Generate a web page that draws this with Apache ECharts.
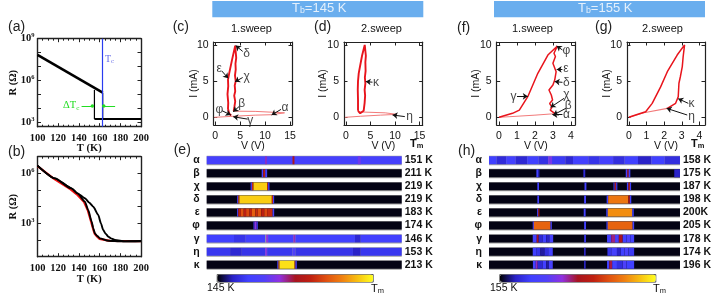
<!DOCTYPE html>
<html>
<head>
<meta charset="utf-8">
<title>Resistive switching sweeps</title>
<script src="https://cdn.jsdelivr.net/npm/echarts@6/dist/echarts.min.js"></script>
<style>
html,body{margin:0;padding:0;background:#fff;}
#chart{width:714px;height:295px;}
</style>
</head>
<body>
<div id="chart"></div>
<script>
//(a) R(T) 
var aHeatCurve = [[100,6.8e7],[163,1.35e5]];
var aDropCurve = [[163,1.35e5],[163,1740]];
var aFlatCurve = [[155,1740],[200,1740]];
var aCoolCurve = [[155,1740],[155,2.1e5]];
//(b) R(T)
var bUpper = [[100,2.9e6],[116.8,5e5],[132.9,1.26e5],[138.7,6.3e4],[145.8,3.2e4],[150,1.75e4],[153.9,1e4],[158.7,3.2e3],[161.3,1000],[163.5,400],[165.8,240],[168.4,160],[171,126],[174.8,100],[184.5,83],[200,87]];
var bLower = [[100,2.9e6],[116.8,5e5],[132.9,1.26e5],[138.7,6.3e4],[145.8,2e4],[149,6.3e3],[152.3,1260],[153.9,500],[155.5,250],[157.7,174],[160.3,126],[168.4,91],[181.3,83],[200,85]];
var bRed = [[100,2.7e6],[116,4.7e5],[132,1.1e5],[138,5.5e4],[145,1.9e4],[148.7,5.8e3],[152,1150],[153.7,470],[155.3,235],[157.5,165],[160,118],[170,89],[200,85]];
//(c)
var cLow = [[-0.2,0],[3,0.12],[8,0.3],[11.3,0.36],[13.9,0.62],[13.7,0.78],[8,0.82],[3.7,0.85]];
var cLoop = [[3.7,0.85],[3.85,1.5],[4.0,2.2],[3.8,3],[4.0,3.6],[3.9,4.4],[4.1,5],[3.95,5.8],[4.1,6.6],[4.05,7.4],[4.2,8.2],[4.1,9],[4.0,9.9],[3.35,7.9],[2.8,6.1],[2.55,5.2],[2.6,4.3],[2.45,3.2],[2.6,2],[2.55,1.2],[2.8,0.5],[3.2,0.25]];
//(d)
var dLow = [[-0.2,0],[3,0.15],[7,0.3],[10.4,0.41],[8,0.62],[2.6,0.75]];
var dLoop = [[2.45,0.9],[2.9,0.55],[3.6,0.9],[3.8,2],[3.9,3],[3.8,3.8],[3.95,4.7],[3.85,5.5],[4.0,6.4],[3.95,7.6],[4.05,8.5],[3.82,10],[3.27,8.5],[2.6,6.1],[2.45,5],[2.4,3.8],[2.45,2.4],[2.45,0.9]];
//(f)
var fLow = [[0,0],[1,0.15],[2,0.3],[3.1,0.5]];
var fLoop = [[3.1,0.55],[2.85,1],[2.95,1.4],[2.82,1.9],[2.98,2.4],[2.91,3.08],[2.78,3.77],[3.0,4.46],[3.1,5.15],[3.18,6.3],[3.0,7.46],[3.14,8.4],[3.06,8.84],[3.25,9.85],[2.72,8.6],[2.16,6.08],[1.6,2.85],[1.13,1],[0.75,0.55],[0,0]];
//(g)
var gLow = [[0,0],[0.85,0.64],[2.18,1.24]];
var gLoop = [[2.18,1.24],[2.65,1.93],[2.8,2.85],[2.84,4.7],[2.92,5.6],[3.03,7],[3.08,8.4],[3.16,10],[2.74,8.6],[2.18,6.3],[1.8,4.2],[1.32,1.93],[0.95,0.77],[0.38,0.32],[0,0]];

//notes: text, text x, text y, arrow from x, y, arrow to x, y
var cNotes = [['δ',6.3,8.84,5.5,9.1,4.1,9.9],['ε',0.8,6.77,1.3,6.4,2.6,5.4],['χ',6.3,5.6,5.5,5.5,3.96,4.9],['β',5.3,1.93,4.8,1.5,3.6,0.77],['φ',0.8,1,1.4,0.9,3.1,0.32],['γ',7,-0.47,6.5,-0.25,3.6,0.08],['α',14,1.33,13.2,1.1,11.3,0.32]];
var dNotes = [['κ',6.13,4.83,5.4,4.85,4.03,4.93],['η',12.95,0.08,12,0.1,9.5,0.32]];
var fNotes = [['φ',3.75,9.2,3.53,9.3,3.21,9.85],['ε',3.72,6.77,3.53,6.62,3.21,6.62],['δ',3.75,4.83,3.53,4.83,3.1,4.93],['χ',3.75,3.08,3.62,2.62,2.87,1.38],['β',3.85,1.56,3.72,1.24,3.02,0.32],['α',3.75,0.32,3.53,0.37,2.97,0.37],['γ',0.81,2.85,1,2.9,1.6,2.9]];
var gNotes = [['κ',3.56,1.84,3.37,1.93,2.8,2.57],['η',3.56,0.08,3.31,0.32,2.14,1.24]];

//heat strips, each row [from %, to %, level on the colour bar]
var stripNames = ['α','β','χ','δ','ε','φ','γ','η','κ'];
var eTm = ['151 K','211 K','219 K','219 K','183 K','174 K','146 K','153 K','213 K'];
var hTm = ['158 K','175 K','187 K','198 K','200K','205 K','178 K','174 K','196 K'];
var eRows = [
    [[0,100,.24],[30,30.8,.42],[44,45,.52],[77.5,79,.35]],
    [[0,100,.01],[28.2,29,.2],[29,30,.55],[30,31,.22]],
    [[0,100,.01],[22.5,23.2,.2],[23.2,24,.62],[24,31,.92],[31,31.5,.62],[31.5,32.2,.2]],
    [[0,100,.01],[15.6,16.2,.25],[16.2,16.8,.7],[16.8,33.4,.92],[33.4,34,.6],[34,34.6,.22]],
    [[0,100,.01],[15.6,16.2,.25],[16.2,17.5,.6],[17.5,19,.7],[19,20.2,.58],[20.2,22,.68],[22,23.2,.6],[23.2,25,.73],[25,26.2,.62],[26.2,28,.7],[28,29.5,.58],[29.5,31,.68],[31,33.8,.62],[33.8,34.6,.25]],
    [[0,100,.01],[24,24.6,.25],[24.6,25.6,.4],[25.6,26.2,.25]],
    [[0,14,.2],[14,20,.16],[20,30,.21],[30.5,31.5,.4],[31.5,44.5,.22],[44.5,45.5,.42],[45.5,76,.2],[76,79,.12],[79,100,.21]],
    [[0,12,.17],[12,18,.12],[18,30,.16],[30,31,.38],[31,44,.17],[44,45.5,.3],[45.5,75,.16],[75,79,.1],[79,100,.17]],
    [[0,100,.01],[36.2,36.8,.25],[36.8,37.4,.75],[37.4,45,.95],[45,45.5,.75],[45.5,46.2,.25]]
];
var hRows = [
    [[0,4,.2],[4,9,.13],[9,14,.22],[14,20,.12],[20,26,.2],[26,31,.15],[31,33,.36],[33,40,.18],[40,44,.12],[44,52,.22],[52,58,.16],[58,65,.23],[65,71,.14],[71,78,.2],[78,85,.1],[85,92,.2],[92,100,.14]],
    [[0,100,.01],[24.8,25.8,.2],[25.8,26.4,.12],[49.4,50.4,.12],[71.6,72.4,.22],[72.4,73.2,.48],[73.2,74,.2],[97,100,.1]],
    [[0,100,.01],[25.3,26.2,.22],[50,51,.22],[65.2,65.8,.2],[65.8,66.6,.5],[66.6,67.2,.2],[72.2,73,.2],[73,73.8,.55],[73.8,74.4,.2]],
    [[0,100,.01],[25.3,26.2,.22],[49.8,50.8,.22],[61.6,62.4,.2],[62.4,73,.78],[73,73.8,.5],[73.8,74.5,.2]],
    [[0,100,.01],[25.2,25.8,.22],[25.8,26.4,.55],[49.6,50.6,.22],[61.4,62.2,.2],[62.2,75,.82],[75,75.8,.2]],
    [[0,100,.01],[22.9,23.5,.22],[23.5,32.2,.74],[32.2,32.9,.22],[49.8,50.8,.22],[61.5,62.2,.2],[62.2,75.2,.74],[75.2,76,.22]],
    [[0,100,.01],[22.9,25,.22],[25,26,.5],[26,28,.12],[28,30,.2],[30,31.6,.1],[31.6,33.6,.24],[49.8,50.8,.15],[61.8,64,.22],[64,66,.45],[66,68,.25],[68,70,.5],[70,72,.2],[72,74,.28],[74,76,.22]],
    [[0,100,.01],[22.9,25,.2],[25,27,.16],[27,29,.08],[29,31,.14],[31,33.4,.22],[49.8,50.6,.12],[62,64,.16],[64,67,.24],[67,69,.1],[69,71,.2],[71,73,.26],[73,76,.18]],
    [[0,100,.01],[23,24.5,.22],[24.5,25.5,.42],[25.5,28,.12],[28,30,.22],[30,31.4,.08],[31.4,33.4,.24],[49.8,50.6,.12],[61.8,63,.2],[63,64.5,.48],[64.5,67,.2],[67,70,.14],[70,72,.28],[72,76,.2]]
];
var barColors = ['#000000','#2a22c8','#4040ff','#5040f8','#9030e0','#a81420','#c02010','#e05010','#f08010','#f8c010','#ffff20'];

var SERIF = '"Liberation Serif"', SANS = '"Liberation Sans"';
var xAxes = [], yAxes = [], grids = [], series = [], graphics = [];

function box(left,top,right,bottom){
    grids.push({left:left,top:top,width:right-left,height:bottom-top,show:false});
    return grids.length-1;
}
//axis pair with mirrored ticks on the far side
function addAxes(g,x,y,font,weight,lineW){
    var line = {show:true,onZero:false,lineStyle:{color:'#222',width:lineW}};
    var tickLine = {color:'#222',width:1};
    var minor = {show:!!x.minor,splitNumber:x.minor||1,length:2,lineStyle:tickLine};
    var ix = xAxes.length, iy = yAxes.length;
    xAxes.push({gridIndex:g,type:'value',position:'bottom',min:x.min,max:x.max,axisLine:line,splitLine:{show:false},
        axisTick:{show:true,inside:true,length:3.5,lineStyle:tickLine,customValues:x.ticks},minorTick:minor,
        axisLabel:{color:'#111',fontFamily:font,fontWeight:weight,fontSize:10.5,margin:6,customValues:x.ticks,hideOverlap:false,showMinLabel:true,showMaxLabel:true},
        name:x.name,nameLocation:'middle',nameGap:x.gap,nameMoveOverlap:false,nameTextStyle:{color:'#111',fontFamily:font,fontWeight:weight,fontSize:10.5}});
    xAxes.push({gridIndex:g,type:'value',position:'top',min:x.min,max:x.max,axisLine:line,splitLine:{show:false},
        axisTick:{show:true,inside:true,length:3.5,lineStyle:tickLine,customValues:x.ticks},minorTick:minor,axisLabel:{show:false}});
    var yBase = {gridIndex:g,type:y.log?'log':'value',logBase:10,min:y.min,max:y.max,axisLine:line,splitLine:{show:false},minorTick:{show:false},minorSplitLine:{show:false}};
    yAxes.push(Object.assign({},yBase,{position:'left',
        axisTick:{show:true,inside:true,length:3.5,lineStyle:tickLine,customValues:y.ticks},
        axisLabel:{color:'#111',fontFamily:font,fontWeight:weight,fontSize:10.5,margin:y.margin||5,customValues:y.labels||y.ticks,hideOverlap:false,formatter:y.format,rich:y.rich},
        name:y.name,nameLocation:'middle',nameGap:y.gap,nameMoveOverlap:false,nameRotate:90,nameTextStyle:{color:'#111',fontFamily:font,fontWeight:weight,fontSize:10.5}}));
    yAxes.push(Object.assign({},yBase,{position:'right',
        axisTick:{show:true,inside:true,length:3.5,lineStyle:tickLine,customValues:y.ticks},axisLabel:{show:false}}));
    return {x:ix,y:iy};
}
function addLine(ax,data,color,width,z,extra){
    series.push(Object.assign({type:'line',xAxisIndex:ax.x,yAxisIndex:ax.y,data:data,symbol:'none',smooth:false,silent:true,animation:false,
        lineStyle:{color:color,width:width},z:z||3},extra||{}));
}
//text and black arrow notes inside a panel
function addNotes(ax,notes){
    var pts = [], arrows = [];
    notes.forEach(function(n){
        pts.push({value:[n[1],n[2]],name:n[0]});
        arrows.push([{coord:[n[3],n[4]]},{coord:[n[5],n[6]]}]);
    });
    series.push({type:'scatter',xAxisIndex:ax.x,yAxisIndex:ax.y,data:pts,symbolSize:1,silent:true,animation:false,z:6,
        itemStyle:{color:'transparent'},
        label:{show:true,position:'inside',formatter:'{b}',color:'#111',fontFamily:SANS,fontSize:12},
        markLine:{silent:true,animation:false,symbol:['none','arrow'],symbolSize:5,label:{show:false},
            lineStyle:{color:'#111',width:1,type:'solid'},data:arrows}});
}
function text(x,y,str,o){
    o = o||{};
    graphics.push({type:'text',left:x,top:y,silent:true,z:20,style:{text:str,fill:o.color||'#111',
        font:(o.weight||'normal')+' '+(o.size||11)+'px '+(o.font||SANS),rich:o.rich,textVerticalAlign:'top'}});
}
function subRich(size,color,font,weight){
    return {
        a:{fontSize:size,fill:color,color:color,fontFamily:font,fontWeight:weight},
        b:{fontSize:size*0.68,fill:color,color:color,fontFamily:font,fontWeight:weight,padding:[5,0,0,0]}
    };
}

//(a)
var logLabel = function(v){ return '{b|10}{s|'+Math.round(Math.log(v)/Math.LN10)+'}'; };
var logRich = {b:{fontFamily:SERIF,fontWeight:'bold',fontSize:10.5,color:'#111'},s:{fontFamily:SERIF,fontWeight:'bold',fontSize:6.5,color:'#111',padding:[0,0,6,0]}};
var tLabels = [100,120,140,160,180,200];
var aAx = addAxes(box(37.5,38.7,141,126.7),
    {min:100,max:200,ticks:tLabels,minor:4,name:'T (K)',gap:16},
    {log:true,min:490,max:1e9,ticks:[1e3,1e4,1e5,1e6,1e7,1e8,1e9],labels:[1e3,1e6,1e9],format:logLabel,rich:logRich,name:'R (Ω)',gap:19,margin:3},
    SERIF,'bold',1.4);
addLine(aAx,aHeatCurve,'#000',2.6,4);
addLine(aAx,aDropCurve,'#000',1.2,4);
addLine(aAx,aFlatCurve,'#000',2,4);
addLine(aAx,aCoolCurve,'#000',1.2,4);
series.push({type:'line',xAxisIndex:aAx.x,yAxisIndex:aAx.y,data:[],silent:true,animation:false,z:5,
    markLine:{silent:true,animation:false,symbol:'none',label:{show:false},lineStyle:{color:'#2a3cf0',width:1.2,type:'solid'},data:[{xAxis:162.8}]}});
series.push({type:'line',xAxisIndex:aAx.x,yAxisIndex:aAx.y,data:[],silent:true,animation:false,z:5,
    markLine:{silent:true,animation:false,symbol:['none','circle'],symbolSize:3.5,label:{show:false},lineStyle:{color:'#22dd22',width:1,type:'solid'},
        data:[[{coord:[142.6,1.48e4]},{coord:[153,1.48e4]}],[{coord:[175,1.48e4]},{coord:[164,1.48e4]}]]}});

//(b)
var bAx = addAxes(box(37.5,156.7,141,256.7),
    {min:100,max:200,ticks:tLabels,minor:4,name:'T (K)',gap:17},
    {log:true,min:10,max:1e7,ticks:[10,1e2,1e3,1e4,1e5,1e6,1e7],labels:[1e3,1e6],format:logLabel,rich:logRich,name:'R (Ω)',gap:19,margin:3},
    SERIF,'bold',1.4);
addLine(bAx,bRed,'#ee1111',2.2,3);
addLine(bAx,bUpper,'#000',1.9,4,{smooth:0.2,smoothMonotone:'x'});
addLine(bAx,bLower,'#000',1.9,4,{smooth:0.2,smoothMonotone:'x'});

//I-V panels
var iTicks = [0,5,10];
var cAx = addAxes(box(213.7,42,292,125),{min:-0.32,max:15.4,ticks:[0,5,10,15],name:'V (V)',gap:16},{min:-1.06,max:10.4,ticks:iTicks,name:'I (mA)',gap:14},SANS,'normal',1.2);
var dAx = addAxes(box(344,42,422.7,125),{min:-0.41,max:15.65,ticks:[0,5,10,15],name:'V (V)',gap:16},{min:-1.06,max:10.4,ticks:iTicks,name:'I (mA)',gap:15},SANS,'normal',1.2);
var fAx = addAxes(box(496.7,42,575,125),{min:-0.13,max:4.23,ticks:[0,1,2,3,4],name:'V (V)',gap:16},{min:-1.06,max:10.4,ticks:iTicks,name:'I (mA)',gap:15},SANS,'normal',1.2);
var gAx = addAxes(box(627,42,705,125),{min:-0.11,max:4.32,ticks:[0,1,2,3,4],name:'V (V)',gap:16},{min:-1.06,max:10.4,ticks:iTicks,name:'I (mA)',gap:14},SANS,'normal',1.2);
var RED = '#e8141c', PALE = '#f27a7a';
addLine(cAx,cLow,PALE,1,3); addLine(cAx,cLoop,RED,1.9,4); addNotes(cAx,cNotes);
addLine(dAx,dLow,PALE,1,3); addLine(dAx,dLoop,RED,1.9,4); addNotes(dAx,dNotes);
addLine(fAx,fLow,PALE,1,3); addLine(fAx,fLoop,RED,1.5,4); addNotes(fAx,fNotes);
addLine(gAx,gLow,PALE,1.1,3); addLine(gAx,gLoop,RED,1.5,4); addNotes(gAx,gNotes);

//strips
function stripRect(params,api){
    var a = api.coord([api.value(0),api.value(2)]);
    var b = api.coord([api.value(1),api.value(2)]);
    var h = api.size([0,1])[1]*0.61;
    return {type:'rect',shape:{x:a[0],y:a[1]-h/2,width:b[0]-a[0],height:h},style:{fill:api.visual('color')}};
}
function frameRect(params,api){
    var a = api.coord([0,api.value(0)]);
    var b = api.coord([100,api.value(0)]);
    var h = api.size([0,1])[1]*0.61;
    return {type:'rect',shape:{x:a[0],y:a[1]-h/2-0.5,width:b[0]-a[0],height:h+1.5},style:{fill:'#a0a0a0'}};
}
function addStrips(left,right,rows,tm){
    var g = box(left,153.7,right,271.3);
    var ix = xAxes.length, iy = yAxes.length;
    xAxes.push({gridIndex:g,type:'value',min:0,max:100,show:false});
    var cat = {gridIndex:g,type:'category',inverse:true,axisLine:{show:false},axisTick:{show:false},splitLine:{show:false}};
    yAxes.push(Object.assign({},cat,{position:'left',data:stripNames,axisLabel:{color:'#111',fontFamily:SANS,fontWeight:'bold',fontSize:10.5,margin:7,interval:0}}));
    yAxes.push(Object.assign({},cat,{position:'right',data:tm,axisLabel:{color:'#111',fontFamily:SANS,fontWeight:'bold',fontSize:10.5,margin:3,interval:0}}));
    var cells = [], frames = [];
    rows.forEach(function(row,r){
        frames.push([r]);
        row.forEach(function(s){ cells.push([s[0],s[1],r,s[2]]); });
    });
    series.push({type:'custom',xAxisIndex:ix,yAxisIndex:iy,data:frames,renderItem:frameRect,encode:{y:0},silent:true,animation:false,z:2});
    series.push({type:'custom',xAxisIndex:ix,yAxisIndex:iy,data:cells,renderItem:stripRect,encode:{x:[0,1],y:2},silent:true,animation:false,z:3,clip:true});
    return series.length-1;
}
var eStrip = addStrips(206.7,401.7,eRows,eTm);
var hStrip = addStrips(489,684,hRows,hTm);

function colourBar(left,seriesIdx){
    return {type:'continuous',seriesIndex:seriesIdx,dimension:3,min:0,max:1,orient:'horizontal',left:left,top:274,
        itemWidth:7.6,itemHeight:156,calculable:false,realtime:false,hoverLink:false,padding:0,text:null,
        inRange:{color:barColors},borderColor:'#555',borderWidth:1};
}

//page furniture
graphics.push({type:'rect',silent:true,z:1,shape:{x:212.3,y:1,width:211,height:16.3},style:{fill:'#6aaeee'}});
graphics.push({type:'rect',silent:true,z:1,shape:{x:494,y:1,width:211,height:16.3},style:{fill:'#6aaeee'}});
var hdrRich = subRich(13,'#e4f0fc',SANS,'normal');
text(292,2,'{a|T}{b|b}{a|=145 K}',{rich:hdrRich,color:'#e4f0fc',size:13});
text(578,2,'{a|T}{b|b}{a|=155 K}',{rich:hdrRich,color:'#e4f0fc',size:13});
[['(a)',8,20],['(b)',8,145],['(c)',172.7,20],['(d)',314,20],['(e)',173.7,143],['(f)',457,21],['(g)',595,20],['(h)',458,144]].forEach(function(p){
    text(p[1],p[2],p[0],{size:14,color:'#222'});
});
text(231,23,'1.sweep',{size:11});
text(361,23,'2.sweep',{size:11});
text(512,23,'1.sweep',{size:11});
text(642,23,'2.sweep',{size:11});
var tmRich = subRich(11,'#111',SANS,'bold');
var tmRichPlain = subRich(11,'#111',SANS,'normal');
text(410,138,'{a|T}{b|m}',{rich:tmRich,weight:'bold'});
text(691,138,'{a|T}{b|m}',{rich:tmRich,weight:'bold'});
text(207,283,'145 K',{size:10.5});
text(371,283,'{a|T}{b|m}',{rich:tmRichPlain});
text(490,283,'155 K',{size:10.5});
text(653,283,'{a|T}{b|m}',{rich:tmRichPlain});
text(105,54,'{a|T}{b|c}',{rich:subRich(10,'#6a70e8',SERIF,'normal')});
text(63,100,'{a|ΔT}{b|c}',{rich:subRich(10.5,'#22dd22',SERIF,'normal')});

var chart = echarts.init(document.getElementById('chart'),null,{renderer:'canvas'});
chart.setOption({
    animation:false,
    backgroundColor:'#fff',
    grid:grids,
    xAxis:xAxes,
    yAxis:yAxes,
    visualMap:[colourBar(216.7,eStrip),colourBar(499.3,hStrip)],
    series:series,
    graphic:graphics
});
</script>
</body>
</html>
